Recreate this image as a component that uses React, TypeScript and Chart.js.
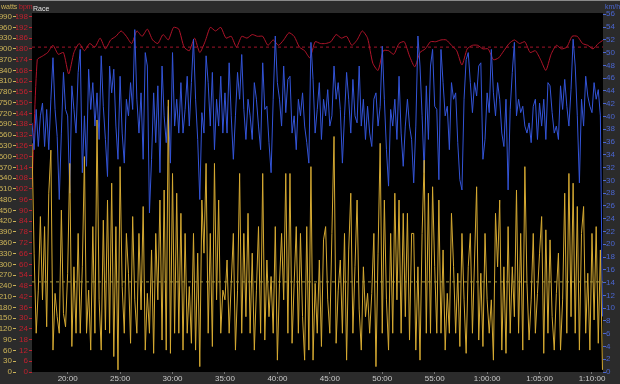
import React, { useEffect, useRef } from 'react';
import { Chart, registerables } from 'chart.js';

Chart.register(...registerables);

// time grid (minutes of ride)
const START_MIN = 16.6;
const STEP_MIN = 0.2;
const HR_STEP_MIN = 0.5;
const X_MAX_MIN = 71.05;

const xTickMinutes = [20, 25, 30, 35, 40, 45, 50, 55, 60, 65, 70];

// power, watts (sampled every 0.2 min)
const powerWatts = [
  637, 331, 108, 228, 433, 201, 405, 126, 498, 618, 61, 219, 154, 108, 451, 163, 126, 275, 581, 71,
  293, 108, 386, 108, 293, 600, 108, 228, 61, 405, 108, 702, 201, 61, 423, 117, 479, 108, 526, 43,
  405, 6, 572, 238, 108, 386, 275, 80, 433, 201, 108, 386, 173, 461, 61, 219, 108, 340, 52, 386,
  201, 479, 89, 507, 61, 758, 52, 553, 108, 498, 108, 442, 61, 386, 108, 238, 80, 386, 61, 331,
  15, 479, 331, 581, 108, 386, 71, 581, 201, 479, 108, 228, 201, 312, 108, 247, 386, 61, 228, 553,
  108, 386, 154, 442, 108, 331, 61, 228, 405, 108, 553, 89, 312, 154, 266, 108, 405, 33, 247, 386,
  201, 553, 108, 553, 80, 247, 405, 108, 386, 154, 33, 405, 61, 572, 33, 247, 108, 312, 71, 368,
  405, 201, 108, 386, 656, 80, 228, 312, 108, 386, 33, 340, 498, 108, 293, 479, 173, 61, 293, 154,
  219, 108, 219, 386, 15, 331, 637, 108, 479, 201, 61, 386, 108, 498, 201, 479, 108, 442, 154, 442,
  89, 386, 386, 61, 293, 33, 386, 590, 108, 498, 108, 516, 293, 108, 479, 108, 340, 61, 219, 108,
  442, 293, 108, 275, 71, 386, 201, 52, 293, 386, 108, 312, 516, 89, 275, 71, 386, 201, 108, 201,
  33, 442, 293, 479, 61, 293, 52, 405, 108, 293, 154, 507, 108, 386, 61, 572, 247, 89, 201, 386,
  108, 219, 331, 433, 52, 396, 108, 368, 154, 61, 219, 331, 61, 201, 498, 108, 553, 154, 526, 108,
  461, 61, 386, 461, 108, 275, 61, 386, 145, 405, 80, 340, 6,
];

// speed, km/h (sampled every 0.2 min)
const speedKmh = [
  39.0, 34.8, 41.1, 35.3, 40.1, 42.1, 35.3, 41.1, 34.8, 42.7, 49.2, 41.1, 36.9, 27.0, 37.4, 46.9, 41.1, 40.1, 28.0, 44.8,
  41.1, 37.4, 46.9, 50.5, 31.2, 40.1, 32.2, 47.4, 41.1, 45.3, 38.5, 43.7, 36.4, 49.5, 41.6, 36.4, 30.6, 47.9, 43.7, 47.4,
  38.5, 33.3, 46.3, 37.4, 32.7, 42.7, 40.1, 45.3, 41.1, 53.6, 42.7, 37.4, 43.7, 33.3, 50.0, 47.9, 24.9, 33.3, 43.7, 35.9,
  44.8, 31.2, 47.9, 40.1, 35.9, 41.6, 32.7, 50.0, 38.5, 42.7, 37.4, 45.3, 37.4, 41.1, 46.3, 38.5, 45.3, 52.1, 42.7, 36.4,
  27.0, 40.6, 37.4, 49.5, 45.3, 38.5, 46.9, 34.8, 42.7, 38.5, 46.3, 37.4, 43.7, 37.4, 48.4, 40.1, 33.3, 40.1, 46.9, 42.7,
  49.7, 41.1, 36.4, 42.7, 40.1, 36.4, 45.3, 42.7, 38.5, 34.8, 48.4, 41.1, 41.6, 35.9, 31.2, 42.7, 52.6, 45.3, 42.7, 38.5,
  47.9, 40.6, 45.8, 46.3, 37.4, 40.1, 34.8, 42.7, 40.1, 43.7, 38.5, 35.9, 32.7, 51.6, 45.8, 37.4, 41.1, 45.3, 36.4, 42.7,
  40.1, 44.2, 38.5, 40.1, 47.9, 42.7, 45.3, 41.1, 32.7, 40.1, 46.9, 42.7, 37.4, 45.8, 40.1, 39.0, 47.9, 38.5, 42.7, 36.4,
  41.6, 37.4, 35.3, 42.7, 43.7, 38.5, 41.6, 51.0, 42.7, 34.8, 29.1, 41.1, 38.5, 42.7, 36.4, 46.3, 37.4, 32.2, 38.5, 42.7,
  38.5, 36.4, 29.6, 38.5, 52.6, 47.9, 40.1, 31.2, 44.8, 36.4, 47.9, 50.5, 41.6, 41.1, 30.1, 50.5, 45.3, 40.1, 41.6, 34.8,
  45.3, 42.7, 43.7, 35.9, 30.1, 28.5, 42.7, 48.9, 50.0, 45.3, 40.6, 45.3, 43.2, 47.9, 48.4, 33.3, 36.4, 43.7, 40.6, 50.5,
  43.7, 40.1, 45.3, 42.7, 37.4, 35.3, 42.7, 28.5, 41.1, 46.9, 51.6, 40.1, 42.7, 40.6, 41.6, 38.5, 37.4, 39.0, 35.9, 41.6,
  42.7, 36.4, 42.1, 38.5, 42.7, 36.4, 45.3, 44.8, 40.6, 37.4, 38.5, 36.4, 44.8, 41.1, 45.8, 41.6, 38.5, 44.2, 52.1, 47.9,
  40.1, 29.6, 42.7, 38.5, 46.3, 43.2, 41.6, 40.6, 45.3, 42.7, 44.2, 40.1, 8.7,
];

// heart rate, bpm (sampled every 0.5 min)
const heartRate = [
  103, 174, 176, 178, 182, 177, 178, 166, 178, 183, 179, 183, 181, 186, 180, 185, 187, 190, 187, 183,
  190, 187, 191, 185, 183, 188, 185, 192, 191, 181, 179, 186, 178, 184, 192, 190, 192, 186, 187, 181,
  187, 186, 188, 187, 187, 182, 185, 182, 185, 189, 187, 181, 179, 175, 184, 183, 183, 184, 188, 186,
  187, 182, 185, 190, 186, 172, 168, 179, 179, 177, 183, 184, 176, 170, 178, 180, 184, 184, 185, 185,
  182, 179, 171, 180, 182, 182, 180, 180, 174, 175, 179, 183, 185, 183, 184, 178, 179, 174, 168, 177,
  182, 180, 181, 187, 187, 183, 182, 180, 183, 185,
];

const avgPower = 251;
const avgHeartRate = 181;

const COL_WATTS = '#d6aa32';
const COL_WATTS_TXT = '#cdb458';
const COL_SPEED = '#3354d8';
const COL_SPEED_TXT = '#4a66d0';
const COL_HR = '#b0142a';
const COL_HR_TXT = '#c0202e';
const FONT = '"Liberation Sans", Arial, sans-serif';

function fmtTime(m: number): string {
  const h = Math.floor(m / 60);
  const mm = Math.round(m % 60);
  return h > 0 ? `${h}:${String(mm).padStart(2, '0')}:00` : `${mm}:00`;
}

const bgPlugin = {
  id: 'bgPlugin',
  beforeDraw(chart: any) {
    const { ctx, chartArea } = chart;
    ctx.save();
    ctx.fillStyle = '#2b2b2b';
    ctx.fillRect(0, 0, chart.width, chart.height);
    ctx.fillStyle = '#8a8a8a';
    ctx.fillRect(0, 0, chart.width, 1);
    ctx.fillStyle = '#000000';
    ctx.fillRect(chartArea.left, chartArea.top, chartArea.right - chartArea.left, chartArea.bottom - chartArea.top);
    ctx.restore();
  },
  afterDraw(chart: any) {
    const { ctx, chartArea } = chart;
    ctx.save();
    ctx.font = `7px ${FONT}`;
    ctx.textBaseline = 'alphabetic';
    ctx.textAlign = 'left';
    ctx.fillStyle = COL_WATTS_TXT;
    ctx.fillText('watts', 1, 9);
    ctx.fillStyle = COL_HR_TXT;
    ctx.fillText('bpm', 19, 9);
    ctx.fillStyle = '#e0e0e0';
    ctx.fillText('Race', chartArea.left + 1, 11);
    ctx.fillStyle = COL_SPEED_TXT;
    ctx.fillText('km/h', chartArea.right + 2, 9);
    ctx.restore();
  },
};

export default function App() {
  const ref = useRef<HTMLCanvasElement | null>(null);

  useEffect(() => {
    document.body.style.margin = '0';
    const canvas = ref.current;
    if (!canvas) return;

    const powerPts = powerWatts.map((v, i) => ({ x: +(START_MIN + i * STEP_MIN).toFixed(2), y: v }));
    const speedPts = speedKmh.map((v, i) => ({ x: +(START_MIN + i * STEP_MIN).toFixed(2), y: v }));
    const hrPts = heartRate.map((v, i) => ({ x: +(START_MIN + i * HR_STEP_MIN).toFixed(2), y: v }));

    const chart = new Chart(canvas, {
      type: 'line',
      data: {
        datasets: [
          {
            label: 'Power',
            data: powerPts,
            yAxisID: 'watts',
            borderColor: COL_WATTS,
            borderWidth: 1,
            pointRadius: 0,
            tension: 0,
            order: 1,
          },
          {
            label: 'Speed',
            data: speedPts,
            yAxisID: 'kmh',
            borderColor: COL_SPEED,
            borderWidth: 1,
            pointRadius: 0,
            tension: 0,
            order: 2,
          },
          {
            label: 'Heart rate',
            data: hrPts,
            yAxisID: 'bpm',
            borderColor: COL_HR,
            borderWidth: 1,
            pointRadius: 0,
            tension: 0.2,
            order: 3,
          },
          {
            label: 'Avg power',
            data: [{ x: START_MIN, y: avgPower }, { x: X_MAX_MIN, y: avgPower }],
            yAxisID: 'watts',
            borderColor: '#a89a40',
            borderWidth: 1,
            borderDash: [3, 3],
            pointRadius: 0,
            order: 0,
          },
          {
            label: 'Avg HR',
            data: [{ x: START_MIN, y: avgHeartRate }, { x: X_MAX_MIN, y: avgHeartRate }],
            yAxisID: 'bpm',
            borderColor: '#a0142a',
            borderWidth: 1,
            borderDash: [3, 3],
            pointRadius: 0,
            order: 4,
          },
        ],
      },
      options: {
        responsive: false,
        animation: false,
        events: [],
        layout: { padding: { top: 13, left: 0, right: 0, bottom: 0 } },
        plugins: { legend: { display: false }, title: { display: false }, tooltip: { enabled: false } },
        scales: {
          x: {
            type: 'linear',
            min: START_MIN,
            max: X_MAX_MIN,
            afterBuildTicks: (s: any) => { s.ticks = xTickMinutes.map((v) => ({ value: v })); },
            afterFit: (s: any) => { s.height = 12; },
            ticks: {
              color: '#c8c8c8',
              font: { size: 8, family: FONT },
              padding: 0,
              maxRotation: 0,
              autoSkip: false,
              callback: (v: any) => fmtTime(Number(v)),
            },
            grid: { drawOnChartArea: false, drawTicks: true, tickLength: 2, tickColor: '#777' },
            border: { display: false },
          },
          watts: {
            type: 'linear',
            position: 'left',
            weight: 2,
            min: 0,
            max: 1000,
            afterFit: (s: any) => { s.width = 16; },
            ticks: {
              stepSize: 30,
              includeBounds: false,
              autoSkip: false,
              color: COL_WATTS_TXT,
              font: { size: 8, family: FONT },
              padding: 1,
            },
            grid: { drawOnChartArea: false, drawTicks: true, tickLength: 3, tickColor: COL_WATTS_TXT },
            border: { display: false },
          },
          bpm: {
            type: 'linear',
            position: 'left',
            weight: 1,
            min: 0,
            max: 200,
            afterFit: (s: any) => { s.width = 16; },
            ticks: {
              stepSize: 6,
              includeBounds: false,
              autoSkip: false,
              color: COL_HR_TXT,
              font: { size: 8, family: FONT },
              padding: 1,
            },
            grid: { drawOnChartArea: false, drawTicks: true, tickLength: 3, tickColor: COL_HR_TXT },
            border: { display: false },
          },
          kmh: {
            type: 'linear',
            position: 'right',
            min: 0,
            max: 56.2,
            afterFit: (s: any) => { s.width = 17; },
            ticks: {
              stepSize: 2,
              includeBounds: false,
              autoSkip: false,
              color: COL_SPEED_TXT,
              font: { size: 8, family: FONT },
              padding: 0,
            },
            grid: { drawOnChartArea: false, drawTicks: true, tickLength: 3, tickColor: COL_SPEED_TXT },
            border: { display: false },
          },
        },
      },
      plugins: [bgPlugin],
    } as any);

    return () => chart.destroy();
  }, []);

  return (
    <div style={{ width: 620, height: 384 }}>
      <canvas ref={ref} width={620} height={384} style={{ display: 'block' }} />
    </div>
  );
}
